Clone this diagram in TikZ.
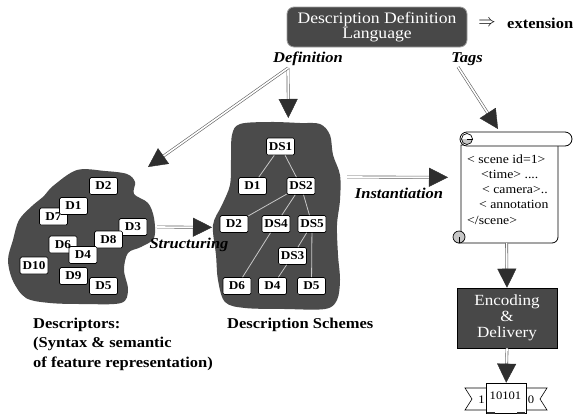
\documentclass[tikz,border=0pt]{standalone}
\usepackage{fontspec}
\setmainfont{Liberation Serif}[FakeStretch=1.1]
\usetikzlibrary{arrows.meta,calc}
\definecolor{blobcol}{HTML}{4B4B4B}
\definecolor{boxdark}{HTML}{484848}
\definecolor{tipcol}{HTML}{2E2E2E}
\definecolor{linegray}{HTML}{606060}
\definecolor{edgegray}{HTML}{C8C8C8}
\newcommand{\dblarrow}[2]{%
  \draw[dblline, shorten >=17pt] (#1) -- (#2);
  \draw[tipline] ($(#2)!19pt!(#1)$) -- (#2);
}
\begin{document}
\begin{tikzpicture}[x=1pt,y=-1pt,
  dnode/.style={draw=black, line width=0.7pt, fill=white, rounded corners=1.5pt,
    minimum width=28pt, minimum height=17pt, inner sep=1pt,
    font=\fontsize{12}{13}\selectfont\bfseries},
  edge/.style={draw=edgegray, line width=0.8pt},
  dblline/.style={draw=linegray, line width=0.6pt, double=white, double distance=1.6pt},
  tipline/.style={draw=tipcol, line width=0.4pt, -{Triangle[length=19pt,width=19pt]}},
  lbl/.style={font=\fontsize{15}{17}\selectfont\bfseries, inner sep=0pt},
  ilbl/.style={font=\fontsize{15}{17}\selectfont\bfseries\itshape, inner sep=0pt},
  xml/.style={font=\fontsize{12.5}{13}\selectfont, inner sep=0pt, anchor=base west},
  darkbox/.style={fill=boxdark, text=white, align=center, inner sep=0pt}]
\fill[white] (0,0) rectangle (586,418);
\useasboundingbox (0,0) rectangle (586,418);

% ---------- blobs ----------
\fill[blobcol] plot[smooth cycle, tension=0.55] coordinates {
  (53,186) (77,170) (105,171) (127,174) (135,182) (134,194) (148,203)
  (154,218) (154,238) (141,247) (128,253) (124,270) (128,290) (121,303)
  (83,304) (50,303) (26,298) (13,281) (8,260) (13,240) (19,220) (32,206) (44,196)};
\fill[blobcol] plot[smooth cycle, tension=0.55] coordinates {
  (240,124) (270,122) (300,123) (320,124) (330,135) (333,155) (340,175)
  (340,200) (337,225) (338,255) (340,280) (337,300) (325,309) (285,309)
  (245,308) (225,302) (218,280) (216,255) (213,225) (222,205) (230,185)
  (231,160) (232,135)};

% ---------- descriptors ----------
\node[dnode] (lD2) at (103.5,186) {D2};
\node[dnode] (lD7) at (53.5,216.5) {D7};
\node[dnode] (lD1) at (73.5,206) {D1};
\node[dnode] (lD3) at (133,227) {D3};
\node[dnode] (lD8) at (108.5,239.5) {D8};
\node[dnode] (lD6) at (63,244.5) {D6};
\node[dnode] (lD4) at (83,255) {D4};
\node[dnode] (lD10) at (34,265.5) {D10};
\node[dnode] (lD9) at (73.5,276) {D9};
\node[dnode] (lD5) at (103.5,286) {D5};

% ---------- description scheme ----------
\node[dnode] (rDS1) at (280.5,146.5) {DS1};
\node[dnode] (rD1) at (252.5,186) {D1};
\node[dnode] (rDS2) at (301,186) {DS2};
\node[dnode] (rD2) at (234,224) {D2};
\node[dnode] (rDS4) at (276,224) {DS4};
\node[dnode] (rDS5) at (312,224) {DS5};
\node[dnode] (rDS3) at (292.5,256) {DS3};
\node[dnode] (rD6) at (237,286) {D6};
\node[dnode] (rD4) at (272.5,286) {D4};
\node[dnode] (rD5) at (311.5,286) {D5};
\draw[edge] (rDS1) -- (rD1);
\draw[edge] (rDS1) -- (rDS2);
\draw[edge] (rDS2) -- (rD2);
\draw[edge] (rDS2) -- (rDS4);
\draw[edge] (rDS2) -- (rDS5);
\draw[edge] (rDS4) -- (rD6);
\draw[edge] (rDS5) -- (rDS3);
\draw[edge] (rDS3) -- (rD4);
\draw[edge] (rDS5) -- (rD5);

% ---------- DDL ----------
\node[darkbox, draw=gray!75, line width=0.8pt, rounded corners=7pt,
  minimum width=180pt, minimum height=40pt,
  font=\fontsize{16}{13.5}\selectfont] (ddl) at (377,27) {Description Definition\\Language};
\node[inner sep=0pt, font=\fontsize{19}{20}\selectfont] (impl) at (487,23.5) {$\Rightarrow$};
\node[lbl, anchor=base west] (ext) at (507,28) {extension};

\node[ilbl] (deflbl) at (308,59) {Definition};
\node[ilbl] (tagslbl) at (467,59) {Tags};
\node[ilbl] (instlbl) at (399,193) {Instantiation};
\node[ilbl] (strlbl) at (189,245) {Structuring};

% ---------- scroll ----------
\filldraw[fill=white, draw=black, line width=0.8pt]
  (461,145) -- (461,236) -- (459,243) -- (552,243) arc[start angle=90, end angle=0, radius=6] -- (558,145) -- cycle;
\filldraw[fill=white, draw=black, line width=0.8pt, rounded corners=7pt]
  (460,132) rectangle (572,146);
\fill[gray!45] (472.5,139) arc[start angle=0, end angle=180, radius=5.5] -- cycle;
\draw[black, line width=0.7pt] (467,139) circle[radius=5.5];
\draw[black, line width=0.6pt] (467,139) -- (472.5,139);
\fill[gray!45] (459,237) circle[radius=6];
\draw[black, line width=0.7pt] (459,237) circle[radius=6];
\draw[black, line width=0.6pt] (459,237) -- (459,243);
\node[xml] (s1) at (467,163) {< scene id=1>};
\node[xml] (s2) at (481,178) {<time> ....};
\node[xml] (s3) at (482,193) {< camera>..};
\node[xml] (s4) at (479,208.5) {< annotation};
\node[xml] (s5) at (467,224) {</scene>};

% ---------- encoding ----------
\node[darkbox, draw=black, line width=0.6pt, minimum width=100pt, minimum height=60pt,
  font=\fontsize{15.5}{16}\selectfont] (enc) at (507,318) {Encoding\\\&\\Delivery};

% ---------- banner ----------
\filldraw[fill=white, draw=black, line width=0.6pt]
  (488,388) -- (465,388) -- (472,399) -- (465,410) -- (488,410) -- cycle;
\filldraw[fill=white, draw=black, line width=0.6pt]
  (524,388) -- (547,388) -- (540,399) -- (547,410) -- (524,410) -- cycle;
\node[draw=black, fill=white, line width=0.6pt, minimum width=40pt, minimum height=30pt,
  inner sep=0pt] (ban) at (506.2,398) {};
\node[inner sep=0pt, font=\fontsize{11.5}{12}\selectfont] (bmid) at (505.5,396) {10101};
\node[inner sep=0pt, font=\fontsize{11.5}{12}\selectfont] (bl) at (481.5,400) {1};
\node[inner sep=0pt, font=\fontsize{11.5}{12}\selectfont] (br) at (531,400) {0};
\fill[tipcol] (487,411.5) rectangle (495,414);
\fill[tipcol] (517,411.5) rectangle (525,414);

% ---------- bottom labels ----------
\node[lbl, anchor=base west] (desc1) at (33,328) {Descriptors:};
\node[lbl, anchor=base west] (desc2) at (33,347.5) {(Syntax \& semantic};
\node[lbl, anchor=base west] (desc3) at (33,367) {of feature representation)};
\node[lbl, anchor=base west] (dsch) at (227,328) {Description Schemes};

% ---------- arrows ----------
\coordinate (defj) at (288,68);
\coordinate (defdown) at (288.3,118);
\coordinate (defleft) at (148,167);
\coordinate (tagsj) at (458,67);
\coordinate (scrolltop) at (498,129);
\coordinate (insts) at (347,177);
\coordinate (instt) at (448,177.3);
\coordinate (strs) at (157,227);
\coordinate (strt) at (212,227.3);
\coordinate (scrollbot) at (506.6,243);
\dblarrow{defj}{defdown}
\dblarrow{defj}{defleft}
\dblarrow{tagsj}{scrolltop}
\dblarrow{insts}{instt}
\dblarrow{strs}{strt}
\dblarrow{scrollbot}{enc.north}
\dblarrow{enc.south}{ban.north}
\end{tikzpicture}
\end{document}
